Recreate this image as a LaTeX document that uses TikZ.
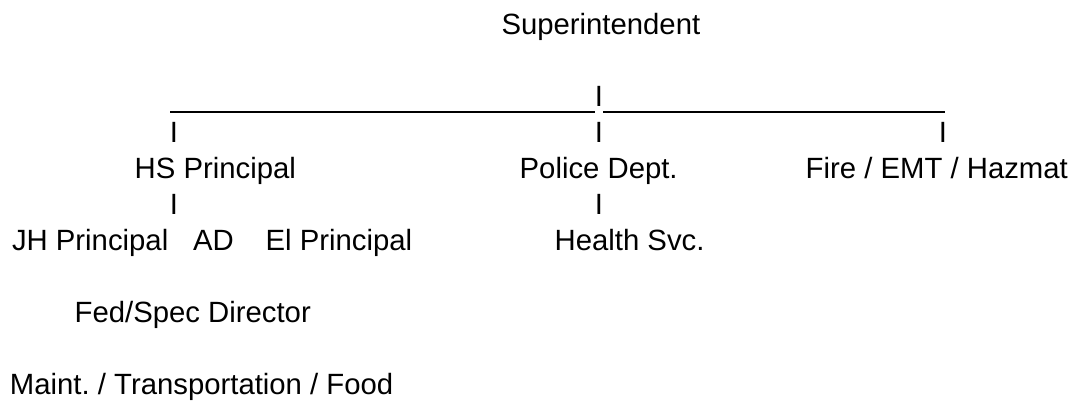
\documentclass[tikz,border=0pt]{standalone}
\usepackage{fontspec}
\setmainfont{Liberation Sans}
\frenchspacing
\begin{document}
\begin{tikzpicture}[x=0.5pt,y=-0.5pt,
  lbl/.style={anchor=base west,inner sep=0pt,outer sep=0pt,font=\fontsize{14.65}{17}\selectfont},
  bar/.style={anchor=base,inner sep=0pt,outer sep=0pt,font=\fontsize{14.65}{17}\selectfont},
  rule/.style={line width=1pt}]
\useasboundingbox[fill=white] (0,0) rectangle (1078,405);
% texts
\node[lbl] (sup) at (501.5,35) {Superintendent};
\node[bar] (i0) at (599,107) {I};
\node[bar] (i1) at (174,143) {I};
\node[bar] (i2) at (599,143) {I};
\node[bar] (i3) at (943,143) {I};
\node[lbl] (hs) at (134.7,179) {HS Principal};
\node[lbl] (pd) at (519.7,179) {Police Dept.};
\node[lbl] (fire) at (805.7,179) {Fire / EMT / Hazmat};
\node[bar] (i4) at (174,215) {I};
\node[bar] (i5) at (599,215) {I};
\node[lbl] (jh) at (12,251) {JH Principal};
\node[lbl] (ad) at (193,251) {AD};
\node[lbl] (el) at (265.7,251) {El Principal};
\node[lbl] (hsvc) at (554.7,251) {Health Svc.};
\node[lbl] (fed) at (74.7,323) {Fed/Spec Director};
\node[lbl] (maint) at (10,395) {Maint. / Transportation / Food};
% underscore rules
\coordinate (l1) at (170,112);
\coordinate (l2) at (595,112);
\coordinate (r1) at (603,112);
\coordinate (r2) at (945,112);
\draw[rule] (l1) -- (l2);
\draw[rule] (r1) -- (r2);
\end{tikzpicture}
\end{document}
